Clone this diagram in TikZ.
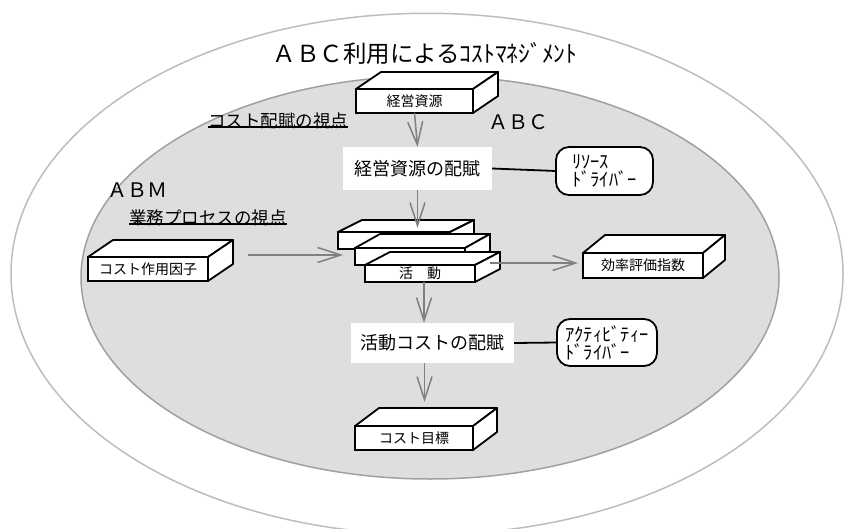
\documentclass[tikz,border=0pt]{standalone}
\usepackage{fontspec}
\setmainfont{Noto Sans CJK JP}
\usetikzlibrary{arrows.meta}
\definecolor{arrgray}{HTML}{808080}
\definecolor{innerfill}{HTML}{DEDEDE}
\definecolor{innerline}{HTML}{A0A0A0}
\definecolor{outerline}{HTML}{BDBDBD}
\newcommand\cubo[3]{%
  \draw[boxl] (#1.north west) -- ([shift={(#2pt,#3pt)}]#1.north west) -- ([shift={(#2pt,#3pt)}]#1.north east) -- (#1.north east) -- cycle;
  \draw[boxl] (#1.north east) -- ([shift={(#2pt,#3pt)}]#1.north east) -- ([shift={(#2pt,#3pt)}]#1.south east) -- (#1.south east) -- cycle;}
\tikzset{
  boxl/.style={draw=black, line width=1.8pt, fill=white, line join=round},
  face/.style={draw=black, line width=1.8pt, fill=white, inner sep=0pt, outer sep=0pt, font=\fontsize{14}{15}\selectfont},
  lab/.style={fill=white, inner sep=0pt, outer sep=0pt, font=\fontsize{18}{20}\selectfont},
  drv/.style={draw=black, line width=1.8pt, rounded corners=13pt, fill=white, inner sep=0pt, outer sep=0pt, align=left, font=\fontsize{18.5}{18}\selectfont},
  arr/.style={draw=arrgray, line width=1.5pt, -{Straight Barb[length=23pt,width=15pt,line width=1.5pt]}},
  conn/.style={draw=black, line width=1.8pt},
  big/.style={inner sep=0pt, font=\fontsize{20}{22}\selectfont},
  uline/.style={inner sep=0pt, font=\fontsize{17.5}{18}\selectfont},
}
\begin{document}
\begin{tikzpicture}[x=1pt,y=-1pt]
\useasboundingbox[fill=white] (0,0) rectangle (845,529);
% ellipses
\draw[outerline, line width=1.5pt] (427,273.9) ellipse [x radius=416, y radius=260.6];
\draw[innerline, fill=innerfill, line width=1.5pt] (430,277.5) ellipse [x radius=349, y radius=201.5];
% title and labels
\node[inner sep=0pt, font=\fontsize{23.5}{25}\selectfont] (title) at (425,53) {ＡＢＣ利用によるｺｽﾄﾏﾈｼﾞﾒﾝﾄ};
\node[big] (abc) at (518,122) {ＡＢＣ};
\node[big] (abm) at (137,190) {ＡＢＭ};
\node[uline] (v1) at (278,121) {コスト配賦の視点};
\draw[line width=1.1pt] ([yshift=-6pt]v1.west) -- ([yshift=-6pt]v1.east);
\node[uline] (v2) at (208,218) {業務プロセスの視点};
\draw[line width=1.1pt] ([yshift=-6pt]v2.west) -- ([yshift=-6pt]v2.east);
% boxes
\node[face, minimum width=117pt, minimum height=24pt] (res) at (414.5,101) {経営資源};
\cubo{res}{25}{17}
\node[face, minimum width=120pt, minimum height=24pt] (cf) at (148,269) {コスト作用因子};
\cubo{cf}{25}{17}
\node[face, minimum width=120pt, minimum height=25pt] (ke) at (643,265.5) {効率評価指数};
\cubo{ke}{22}{18}
\node[face, minimum width=118pt, minimum height=24pt] (tgt) at (414,438) {コスト目標};
\cubo{tgt}{24}{18}
% activity stack
\node[face, minimum width=112pt, minimum height=17pt] (s1) at (394,240.5) {};
\cubo{s1}{24}{12}
\node[face, minimum width=110pt, minimum height=17pt] (s2) at (410,256.5) {};
\cubo{s2}{25}{14}
\node[face, minimum width=110pt, minimum height=17pt] (s3) at (420,273.5) {活　動};
\cubo{s3}{25}{13}
% allocation labels
\node[lab, minimum width=149pt, minimum height=43pt] (ra) at (417.5,168.5) {経営資源の配賦};
\node[lab, minimum width=163pt, minimum height=40pt] (aa) at (432.5,343) {活動コストの配賦};
% drivers
\node[drv, minimum width=97pt, minimum height=48pt] (rd) at (604.5,171) {ﾘｿｰｽ\\ﾄﾞﾗｲﾊﾞｰ};
\node[drv, minimum width=100pt, minimum height=47pt] (ad) at (607,342.5) {ｱｸﾃｨﾋﾞﾃｨｰ\\ﾄﾞﾗｲﾊﾞｰ};
\draw[conn] (ra.east) -- (rd.west);
\draw[conn] (aa.east) -- (ad.west);
% arrows
\coordinate (cfout) at (248,255);
\coordinate (stin) at (343,255);
\coordinate (s3out) at (490,263);
\coordinate (kein) at (578,263);
\draw[arr] (res.south) -- (ra.north);
\draw[arr] (ra.south) -- ([yshift=4pt]s1.north -| ra.south);
\draw[arr] (cfout) -- (stin);
\draw[arr] (s3out) -- (kein);
\draw[arr] ([xshift=4pt]s3.south) -- ([xshift=4pt]s3.south |- aa.north);
\draw[arr] ([xshift=-8pt]aa.south) -- ([xshift=-8pt,yshift=24pt]aa.south |- tgt.north);
\end{tikzpicture}
\end{document}
